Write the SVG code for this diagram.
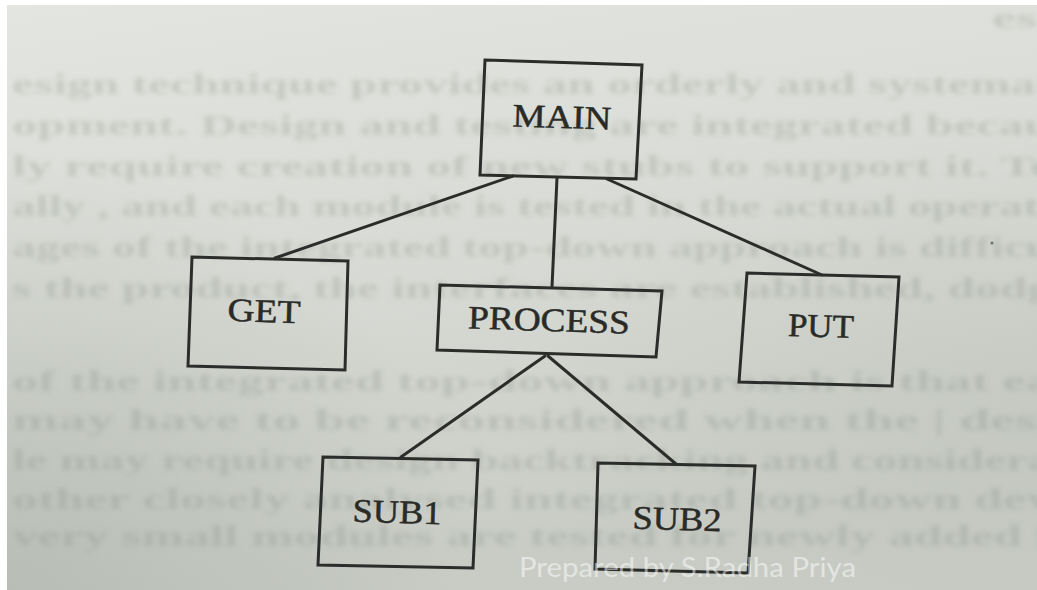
<svg xmlns="http://www.w3.org/2000/svg" width="1037" height="590" viewBox="0 0 1037 590">
  <defs>
    <linearGradient id="paper" x1="0" y1="0" x2="0.25" y2="1">
      <stop offset="0" stop-color="#e3e5e0"/>
      <stop offset="0.5" stop-color="#d8dbd5"/>
      <stop offset="1" stop-color="#c8ccc5"/>
    </linearGradient>
    <radialGradient id="shadeLeft" cx="0" cy="1" r="0.75" gradientTransform="scale(0.6,1)">
      <stop offset="0" stop-color="#a9afa7" stop-opacity="0.55"/>
      <stop offset="1" stop-color="#a9afa7" stop-opacity="0"/>
    </radialGradient>
    <radialGradient id="shadeRight" cx="1" cy="0.7" r="0.5">
      <stop offset="0" stop-color="#b9beb6" stop-opacity="0.35"/>
      <stop offset="1" stop-color="#b9beb6" stop-opacity="0"/>
    </radialGradient>
    <filter id="soft" x="-5%" y="-50%" width="110%" height="200%">
      <feGaussianBlur stdDeviation="2.4"/>
    </filter>
    <style>
      .ghost { font-family: "Liberation Serif", serif; font-size: 30px; font-weight: bold; fill: #8a9188; fill-opacity: 0.3; }
      .box { fill: none; stroke: #2b2d2a; stroke-width: 3; stroke-linejoin: miter; }
      .edge { stroke: #2b2d2a; stroke-width: 3; stroke-linecap: round; fill: none; }
      .label { font-family: "Liberation Serif", "Times New Roman", serif; font-size: 33px; fill: #2a2b27; stroke: #2a2b27; stroke-width: 0.5; text-anchor: middle; }
      .mark { font-family: Lato, "Open Sans", sans-serif; font-size: 27px; fill: #ffffff; fill-opacity: 0.5; }
    </style>
  </defs>

  <!-- photographed page on a white margin -->
  <rect x="0" y="0" width="1037" height="590" fill="#ffffff"/>
  <rect x="7" y="5" width="1030" height="585" fill="url(#paper)"/>
  <rect x="7" y="5" width="1030" height="585" fill="url(#shadeLeft)"/>
  <rect x="7" y="5" width="1030" height="585" fill="url(#shadeRight)"/>

  <!-- show-through of the printed text behind the page -->
  <g id="bleed-through" filter="url(#soft)">
    <text class="ghost" x="992" y="28" textLength="45" lengthAdjust="spacingAndGlyphs">es</text>
    <text class="ghost" x="12" y="94" textLength="1040" lengthAdjust="spacingAndGlyphs">esign technique provides an orderly and systemat</text>
    <text class="ghost" x="12" y="135" textLength="1040" lengthAdjust="spacingAndGlyphs">opment. Design and testing are integrated becau</text>
    <text class="ghost" x="12" y="176" textLength="1040" lengthAdjust="spacingAndGlyphs">ly require creation of new stubs to support it. Te</text>
    <text class="ghost" x="12" y="216" textLength="1040" lengthAdjust="spacingAndGlyphs">ally , and each module is tested in the actual operati</text>
    <text class="ghost" x="12" y="257" textLength="1040" lengthAdjust="spacingAndGlyphs">ages of the integrated top-down approach is difficu</text>
    <text class="ghost" x="12" y="298" textLength="1040" lengthAdjust="spacingAndGlyphs">s the product, the interfaces are established, dodg</text>
    <text class="ghost" x="12" y="391" textLength="1040" lengthAdjust="spacingAndGlyphs">of the integrated top-down approach is that ea</text>
    <text class="ghost" x="12" y="430" textLength="1040" lengthAdjust="spacingAndGlyphs">may have to be reconsidered when the | desi</text>
    <text class="ghost" x="12" y="470" textLength="1040" lengthAdjust="spacingAndGlyphs">le may require design backtracking and considera</text>
    <text class="ghost" x="12" y="509" textLength="1040" lengthAdjust="spacingAndGlyphs">other closely analysed integrated top-down dev</text>
    <text class="ghost" x="12" y="546" textLength="1040" lengthAdjust="spacingAndGlyphs">very small modules are tested for newly added f</text>
  </g>
  <circle cx="992" cy="243" r="1.6" fill="#6f746d"/>

  <!-- connectors of the module hierarchy -->
  <g id="connectors">
    <line class="edge" x1="513" y1="176" x2="275" y2="258"/>
    <line class="edge" x1="557" y1="178" x2="552" y2="287"/>
    <line class="edge" x1="607" y1="179" x2="822" y2="275"/>
    <line class="edge" x1="545" y1="356" x2="401" y2="457"/>
    <line class="edge" x1="548" y1="356" x2="676" y2="464"/>
  </g>

  <g id="main">
    <polygon class="box" points="485,60 642,65 636,179 480,175"/>
    <text class="label" x="562" y="128" textLength="99" lengthAdjust="spacingAndGlyphs" transform="rotate(1.8 562 118)">MAIN</text>
  </g>
  <g id="get">
    <polygon class="box" points="192,257 348,261 345,370 188,366"/>
    <text class="label" x="264" y="322" textLength="73" lengthAdjust="spacingAndGlyphs" transform="rotate(1.8 264 312)">GET</text>
  </g>
  <g id="process">
    <polygon class="box" points="440,285 662,291 656,357 437,350"/>
    <text class="label" x="549" y="331" textLength="162" lengthAdjust="spacingAndGlyphs" transform="rotate(1.8 549 321)">PROCESS</text>
  </g>
  <g id="put">
    <polygon class="box" points="747,273 899,277 892,386 739,382"/>
    <text class="label" x="821" y="337" textLength="66" lengthAdjust="spacingAndGlyphs" transform="rotate(1.8 821 327)">PUT</text>
  </g>
  <g id="sub1">
    <polygon class="box" points="323,457 478,460 473,568 318,565"/>
    <text class="label" x="397" y="523" textLength="89" lengthAdjust="spacingAndGlyphs" transform="rotate(1.8 397 513)">SUB1</text>
  </g>
  <g id="sub2">
    <polygon class="box" points="598,463 755,466 748,573 595,569"/>
    <text class="label" x="677" y="530" textLength="89" lengthAdjust="spacingAndGlyphs" transform="rotate(1.8 677 520)">SUB2</text>
  </g>

  <!-- author credit -->
  <text class="mark" x="519" y="577" textLength="337" lengthAdjust="spacingAndGlyphs">Prepared by S.Radha Priya</text>
</svg>
